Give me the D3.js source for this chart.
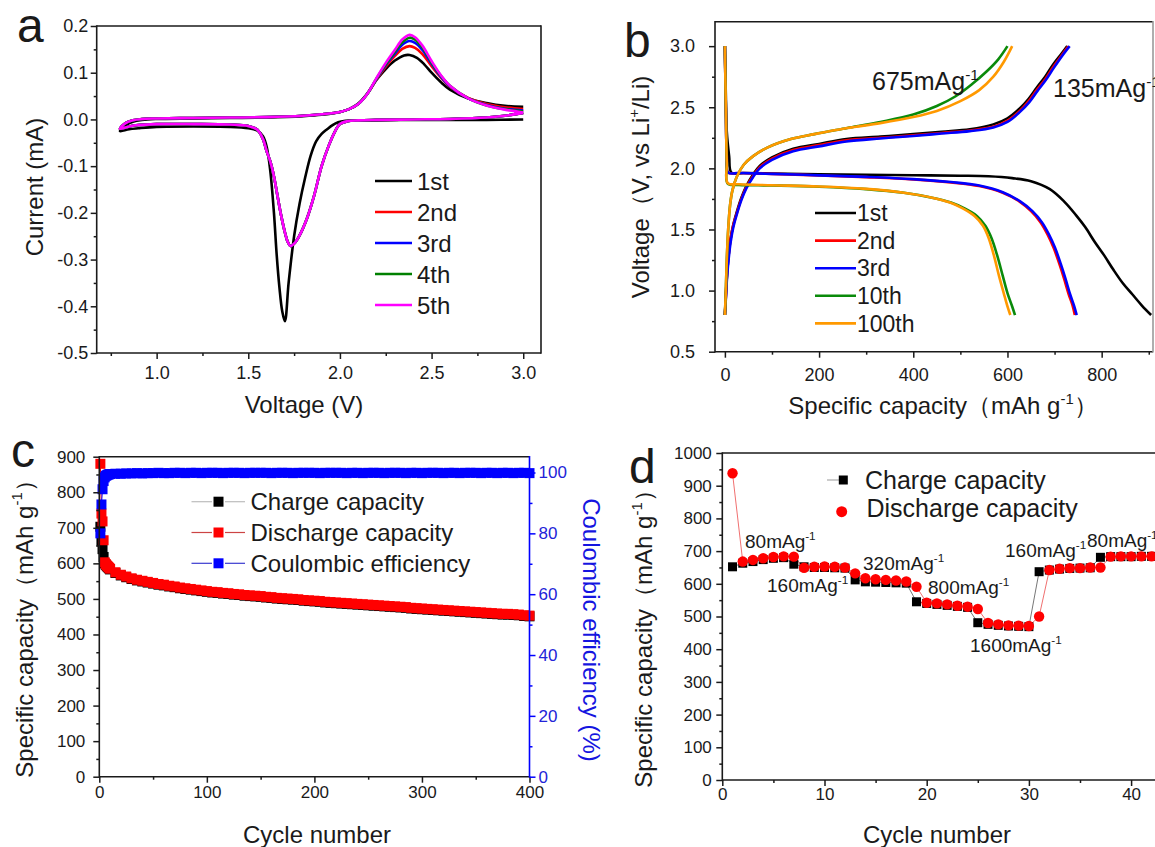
<!DOCTYPE html>
<html>
<head>
<meta charset="utf-8">
<script src="https://cdn.jsdelivr.net/npm/d3@7"></script>
<style>
  body { margin: 0; background: #fff; }
  svg { display: block; font-family: Arial, "Liberation Sans", sans-serif; }
</style>
</head>
<body>
<svg id="fig" width="1155" height="847"></svg>
<script>
// ---------- (a) cyclic voltammetry, [voltage V, current mA] ----------
const cvLabels = ["1st", "2nd", "3rd", "4th", "5th"];
const cvColors = ["#000000", "#ff0000", "#0000ff", "#008000", "#ff00ff"];

const cv1 = [[3.0,0.000],[2.8,-0.001],[2.6,-0.001],[2.4,-0.001],[2.2,-0.002],[2.1,-0.002],[2.03,-0.003],[1.99,-0.006],
  [1.96,-0.012],[1.93,-0.021],[1.90,-0.031],[1.87,-0.047],[1.84,-0.078],[1.81,-0.125],[1.78,-0.18],[1.75,-0.25],
  [1.72,-0.35],[1.70,-0.432],[1.685,-0.41],[1.67,-0.36],[1.655,-0.29],[1.64,-0.20],[1.62,-0.11],[1.60,-0.058],
  [1.58,-0.036],[1.55,-0.024],[1.50,-0.019],[1.40,-0.016],[1.20,-0.015],[1.00,-0.016],[0.90,-0.019],[0.85,-0.021],
  [0.80,-0.025],[0.83,-0.013],[0.87,-0.005],[0.92,-0.001],[1.0,0.001],[1.2,0.002],[1.4,0.003],[1.6,0.004],[1.8,0.007],
  [1.9,0.010],[2.0,0.016],[2.05,0.022],[2.1,0.034],[2.15,0.056],[2.2,0.085],[2.25,0.108],[2.3,0.126],[2.35,0.137],
  [2.38,0.138],[2.42,0.132],[2.46,0.118],[2.5,0.100],[2.55,0.080],[2.6,0.064],[2.7,0.045],[2.8,0.035],[2.9,0.029],[3.0,0.027]];

// reduction sweep is practically the same for cycles 2-5
const cvLaterCathodic = [[3.0,0.014],[2.9,0.008],[2.8,0.004],[2.6,0.001],[2.4,0.0],[2.2,-0.001],[2.1,-0.002],[2.04,-0.004],
  [2.0,-0.010],[1.97,-0.028],[1.94,-0.055],[1.90,-0.10],[1.86,-0.162],[1.82,-0.212],[1.78,-0.248],[1.75,-0.266],
  [1.73,-0.271],[1.715,-0.262],[1.70,-0.242],[1.68,-0.207],[1.66,-0.165],[1.64,-0.122],[1.62,-0.09],[1.60,-0.068],
  [1.58,-0.042],[1.55,-0.022],[1.50,-0.014],[1.40,-0.011],[1.20,-0.010],[1.00,-0.010],[0.90,-0.012],[0.85,-0.015],[0.80,-0.020]];

const cv2Anodic = [[0.83,-0.008],[0.87,-0.002],[0.92,0.001],[1.0,0.002],[1.2,0.003],[1.4,0.004],[1.6,0.005],[1.8,0.008],
  [1.9,0.011],[2.0,0.016],[2.05,0.022],[2.1,0.033],[2.15,0.055],[2.2,0.086],[2.25,0.113],[2.3,0.136],[2.34,0.151],
  [2.38,0.157],[2.41,0.153],[2.45,0.140],[2.5,0.114],[2.55,0.090],[2.6,0.070],[2.7,0.046],[2.8,0.033],[2.9,0.026],[3.0,0.022]];
const cv3Anodic = [[0.83,-0.008],[0.87,-0.002],[0.92,0.001],[1.0,0.002],[1.2,0.003],[1.4,0.004],[1.6,0.005],[1.8,0.008],
  [1.9,0.011],[2.0,0.016],[2.05,0.022],[2.1,0.033],[2.15,0.055],[2.2,0.087],[2.25,0.116],[2.3,0.141],[2.34,0.160],
  [2.38,0.168],[2.41,0.164],[2.45,0.149],[2.5,0.119],[2.55,0.092],[2.6,0.071],[2.7,0.045],[2.8,0.031],[2.9,0.023],[3.0,0.019]];
const cv4Anodic = [[0.83,-0.008],[0.87,-0.002],[0.92,0.001],[1.0,0.002],[1.2,0.003],[1.4,0.004],[1.6,0.005],[1.8,0.008],
  [1.9,0.011],[2.0,0.016],[2.05,0.022],[2.1,0.033],[2.15,0.055],[2.2,0.088],[2.25,0.118],[2.3,0.145],[2.34,0.165],
  [2.38,0.175],[2.41,0.171],[2.45,0.154],[2.5,0.122],[2.55,0.094],[2.6,0.072],[2.7,0.045],[2.8,0.030],[2.9,0.022],[3.0,0.017]];
const cv5Anodic = [[0.83,-0.008],[0.87,-0.002],[0.92,0.001],[1.0,0.002],[1.2,0.003],[1.4,0.004],[1.6,0.005],[1.8,0.008],
  [1.9,0.011],[2.0,0.016],[2.05,0.022],[2.1,0.033],[2.15,0.055],[2.2,0.089],[2.25,0.121],[2.3,0.149],[2.34,0.171],
  [2.38,0.181],[2.41,0.176],[2.45,0.158],[2.5,0.125],[2.55,0.095],[2.6,0.072],[2.7,0.045],[2.8,0.030],[2.9,0.021],[3.0,0.015]];

const cvVoltTicks = [1.0, 1.5, 2.0, 2.5, 3.0];
const cvVoltMinor = [0.75, 1.25, 1.75, 2.25, 2.75];
const cvCurrTicks = [-0.5, -0.4, -0.3, -0.2, -0.1, 0.0, 0.1, 0.2];
const cvCurrMinor = [-0.45, -0.35, -0.25, -0.15, -0.05, 0.05, 0.15];

// ---------- (b) charge/discharge profiles, [capacity mAh/g, voltage V] ----------
const gcLabels = ["1st", "2nd", "3rd", "10th", "100th"];
const gcColors = ["#000000", "#ff0000", "#0000ff", "#0a8a0a", "#ff9900"];

const gc1Dis = [[0,3.0],[2,2.6],[4,2.3],[9,2.1],[14,1.965],[40,1.962],[100,1.958],[200,1.952],[300,1.947],[400,1.944],
  [500,1.94],[560,1.935],[610,1.92],[650,1.895],[690,1.83],[720,1.73],[745,1.62],[765,1.52],[785,1.40],[805,1.29],
  [825,1.17],[845,1.06],[865,0.97],[885,0.88],[905,0.80]];
const gc1Chg = [[0,0.8],[2,0.95],[4,1.1],[7,1.25],[12,1.42],[18,1.54],[25,1.64],[35,1.76],[46,1.86],[60,1.95],[74,2.02],
  [100,2.09],[145,2.16],[200,2.20],[258,2.24],[330,2.26],[400,2.28],[460,2.30],[520,2.32],[570,2.36],[600,2.41],
  [626,2.49],[645,2.57],[662,2.66],[680,2.75],[697,2.85],[713,2.93],[727,3.0]];
const gc2Dis = [[0,3.0],[2,2.5],[4,2.1],[7,1.965],[30,1.962],[100,1.955],[200,1.942],[300,1.928],[400,1.91],[480,1.885],
  [540,1.855],[590,1.80],[625,1.73],[650,1.65],[670,1.56],[685,1.46],[698,1.35],[710,1.22],[720,1.10],[730,0.97],
  [738,0.88],[743,0.80]];
const gc2Chg = [[0,0.8],[2,0.95],[4,1.1],[7,1.25],[12,1.42],[18,1.54],[25,1.63],[35,1.75],[46,1.85],[60,1.94],[74,2.01],
  [100,2.08],[145,2.15],[200,2.19],[258,2.23],[330,2.25],[400,2.27],[460,2.29],[520,2.31],[570,2.34],[600,2.39],
  [626,2.47],[645,2.55],[662,2.64],[680,2.73],[697,2.83],[714,2.92],[729,3.0]];
const gc3Dis = [[0,3.0],[2,2.5],[4,2.1],[7,1.965],[30,1.962],[100,1.955],[200,1.943],[300,1.93],[400,1.912],[480,1.888],
  [540,1.86],[590,1.805],[627,1.73],[653,1.65],[673,1.56],[688,1.46],[701,1.35],[713,1.22],[723,1.10],[733,0.97],
  [741,0.88],[747,0.80]];
const gc3Chg = [[0,0.8],[2,0.93],[4,1.07],[7,1.22],[12,1.39],[18,1.52],[25,1.62],[35,1.74],[46,1.84],[60,1.93],[74,2.0],
  [100,2.07],[145,2.14],[200,2.18],[258,2.22],[330,2.245],[400,2.265],[460,2.285],[520,2.305],[570,2.335],[600,2.38],
  [626,2.46],[646,2.54],[663,2.63],[681,2.72],[698,2.82],[716,2.92],[732,3.0]];
const gc10Dis = [[0,3.0],[2,2.5],[4,2.05],[6,1.875],[30,1.865],[100,1.86],[200,1.85],[300,1.83],[380,1.80],[440,1.76],
  [480,1.72],[510,1.67],[535,1.61],[553,1.53],[566,1.43],[578,1.29],[590,1.12],[600,0.98],[610,0.87],[616,0.80]];
const gc10Chg = [[0,0.8],[2,1.0],[4,1.25],[7,1.5],[11,1.70],[16,1.82],[25,1.93],[40,2.03],[60,2.10],[90,2.17],[140,2.24],
  [190,2.28],[260,2.33],[330,2.38],[400,2.44],[450,2.51],[490,2.59],[525,2.69],[555,2.79],[580,2.89],[600,3.0]];
const gc100Dis = [[0,3.0],[2,2.5],[4,2.05],[6,1.88],[30,1.87],[100,1.862],[200,1.852],[300,1.832],[380,1.80],[440,1.76],
  [478,1.72],[506,1.67],[530,1.61],[548,1.53],[560,1.43],[571,1.29],[582,1.12],[592,0.98],[600,0.87],[606,0.80]];
const gc100Chg = [[0,0.8],[2,1.0],[4,1.25],[7,1.5],[11,1.70],[16,1.82],[25,1.93],[40,2.03],[60,2.10],[90,2.17],[140,2.24],
  [190,2.28],[260,2.33],[330,2.37],[400,2.42],[450,2.47],[500,2.55],[540,2.64],[570,2.75],[592,2.87],[610,3.0]];

const gcCapTicks = [0, 200, 400, 600, 800];
const gcCapMinor = [100, 300, 500, 700, 900];
const gcVoltTicks = [0.5, 1.0, 1.5, 2.0, 2.5, 3.0];
const gcVoltMinor = [0.75, 1.25, 1.75, 2.25, 2.75];

// ---------- (c) long cycling ----------
const lcCycle = [1,2,3,4,5,6,7,8,9,10,15,20,25,30,35,40,45,50,55,60,65,70,75,80,85,90,95,100,105,110,115,120,125,130,
  135,140,145,150,155,160,165,170,175,180,185,190,195,200,205,210,215,220,225,230,235,240,245,250,255,260,265,270,275,
  280,285,290,295,300,305,310,315,320,325,330,335,340,345,350,355,360,365,370,375,380,385,390,395,400];
const lcDischarge = [880,740,718,665,603,598,594,591,588,585,575,568,563,558,554,551,548,545,542,540,537,535,532,530,
  528,526,524,522,520,519,517,516,514,513,511,510,509,508,506,505,503,502,501,500,499,497,496,495,494,492,491,490,
  489,488,487,486,485,484,483,482,481,480,479,478,477,475,474,473,472,471,470,469,468,467,466,465,464,463,462,461,
  460,459,458,458,457,456,454,453];
const lcCharge = [703,662,640,618,600,596,592,589,586,583,573,566,561,556,552,549,546,543,540,538,535,533,530,528,
  526,524,522,520,518,517,515,514,512,511,509,508,507,506,504,503,501,500,499,498,497,495,494,493,492,490,489,488,
  487,486,485,484,483,482,481,480,479,478,477,476,475,473,472,471,470,469,468,467,466,465,464,463,462,461,460,459,
  458,457,456,456,455,454,452,451];
const lcEfficiency = [80,89.5,94.5,97.2,98.4,98.9,99.1,99.3,99.4,99.5,99.6,99.6,99.7,99.7,99.8,99.7,99.8,99.8,99.9,99.8,
  99.8,99.9,99.9,99.8,99.9,99.9,99.8,99.9,99.9,99.9,99.8,99.9,99.9,99.9,99.8,99.9,99.9,99.9,99.9,99.8,99.9,99.9,
  99.9,99.8,99.9,99.9,99.9,99.9,99.8,99.9,99.9,99.9,99.9,99.8,99.9,99.9,99.8,99.9,99.9,99.9,99.8,99.9,99.9,99.9,
  99.8,99.9,99.9,99.8,99.9,99.9,99.9,99.8,99.9,99.9,99.8,99.9,99.9,99.9,99.8,99.9,99.9,99.8,99.9,99.9,99.8,99.9,99.9,99.8];
const lcLegend = ["Charge capacity", "Discharge capacity", "Coulombic efficiency"];
const lcCycleTicks = [0, 100, 200, 300, 400];
const lcCycleMinor = [50, 150, 250, 350];
const lcCapTicks = [0, 100, 200, 300, 400, 500, 600, 700, 800, 900];
const lcCapMinor = [50, 150, 250, 350, 450, 550, 650, 750, 850];
const lcEffTicks = [0, 20, 40, 60, 80, 100];
const lcEffMinor = [10, 30, 50, 70, 90];

// ---------- (d) rate capability ----------
const rtCycle = [1,2,3,4,5,6,7,8,9,10,11,12,13,14,15,16,17,18,19,20,21,22,23,24,25,26,27,28,29,30,31,32,33,34,35,36,
  37,38,39,40,41,42];
const rtCharge = [652,663,668,674,678,680, 660,652,650,650,649,648, 612,606,605,604,603,602, 545,540,537,534,531,528,
  481,476,473,471,470,469, 637,642,645,647,648,649, 681,683,683,683,684,684];
const rtDischarge = [938,668,673,678,682,684, 683,649,652,653,652,650, 632,617,614,612,610,607, 591,542,540,537,533,530,
  523,480,476,473,472,471, 500,642,646,648,648,650, 650,683,684,684,684,684];
const rtRates = [
  { text: "80mAg", x: 745, y: 548 }, { text: "160mAg", x: 767, y: 592 }, { text: "320mAg", x: 863, y: 570 },
  { text: "800mAg", x: 928, y: 594 }, { text: "1600mAg", x: 970, y: 652 }, { text: "160mAg", x: 1005, y: 557 },
  { text: "80mAg", x: 1087, y: 547 }];
const rtLegend = ["Charge capacity", "Discharge capacity"];
const rtCycleTicks = [0, 10, 20, 30, 40];
const rtCycleMinor = [5, 15, 25, 35, 45];
const rtCapTicks = [0, 100, 200, 300, 400, 500, 600, 700, 800, 900, 1000];
const rtCapMinor = [50, 150, 250, 350, 450, 550, 650, 750, 850, 950];

const INK = "#1a1a1a";
const svg = d3.select("#fig");

// text with a superscript part; parts = [[string, isSup], ...]
function richText(g, parts, fs) {
  const t = g.append("text").attr("font-size", fs).attr("fill", INK);
  let up = false;
  parts.forEach(([s, sup]) => {
    const ts = t.append("tspan").text(s);
    if (sup && !up) { ts.attr("font-size", fs * 0.62).attr("dy", -fs * 0.42); up = true; }
    else if (!sup && up) { ts.attr("dy", fs * 0.42); up = false; }
  });
  return t;
}

function styleAxis(sel, color, fs) {
  sel.select(".domain").remove();
  sel.attr("font-family", null).attr("font-size", fs).attr("color", color);
  sel.selectAll(".tick line").attr("stroke-width", 1.5);
  sel.selectAll(".tick text").attr("fill", color);
}

function drawAxes(g, o) {
  const [x0] = o.x.range(), [y0] = o.y.range();
  const bottom = g.append("g").attr("transform", `translate(0,${y0})`);
  bottom.append("g").call(d3.axisBottom(o.x).tickValues(o.xMinor).tickSize(3).tickSizeOuter(0).tickFormat(""))
    .call(s => styleAxis(s, INK, o.fs));
  bottom.append("g").call(d3.axisBottom(o.x).tickValues(o.xTicks).tickSize(6).tickSizeOuter(0)
      .tickPadding(o.padX).tickFormat(o.fmtX))
    .call(s => styleAxis(s, INK, o.fs));
  const left = g.append("g").attr("transform", `translate(${x0},0)`);
  left.append("g").call(d3.axisLeft(o.y).tickValues(o.yMinor).tickSize(3).tickSizeOuter(0).tickFormat(""))
    .call(s => styleAxis(s, INK, o.fs));
  left.append("g").call(d3.axisLeft(o.y).tickValues(o.yTicks).tickSize(6).tickSizeOuter(0)
      .tickPadding(o.padY).tickFormat(o.fmtY))
    .call(s => styleAxis(s, INK, o.fs));
}

function frame(g, x, y, rightColor) {
  const [x0, x1] = x.range(), [y0, y1] = y.range();
  const seg = (a, b, c, d, col) => g.append("line").attr("x1", a).attr("y1", b).attr("x2", c).attr("y2", d)
    .attr("stroke", col).attr("stroke-width", 1.6);
  seg(x0, y1, x1, y1, INK);
  seg(x0, y0, x1, y0, INK);
  seg(x0, y0 + 0.8, x0, y1 - 0.8, INK);
  if (rightColor) seg(x1, y0 + 0.8, x1, y1 - 0.8, rightColor);
}

function panelLetter(s, x, y) {
  svg.append("text").attr("x", x).attr("y", y).attr("font-size", 48).attr("fill", INK).text(s);
}

// ================= (a) =================
{
  const g = svg.append("g");
  const x = d3.scaleLinear([0.673, 3.097], [96.7, 541]);
  const y = d3.scaleLinear([-0.5, 0.2], [353, 26]);
  const cycles = [cv1, cvLaterCathodic.concat(cv2Anodic), cvLaterCathodic.concat(cv3Anodic),
    cvLaterCathodic.concat(cv4Anodic), cvLaterCathodic.concat(cv5Anodic)];
  const line = d3.line().x(d => x(d[0])).y(d => y(d[1])).curve(d3.curveCatmullRom.alpha(0.5));
  g.selectAll("path.cv").data(cycles).join("path").attr("class", "cv")
    .attr("d", line).attr("fill", "none").attr("stroke", (d, i) => cvColors[i])
    .attr("stroke-width", 2.6).attr("stroke-linejoin", "round");

  drawAxes(g, { x, y, xTicks: cvVoltTicks, xMinor: cvVoltMinor, yTicks: cvCurrTicks, yMinor: cvCurrMinor,
    fmtX: d => d.toFixed(1), fmtY: d => d.toFixed(1), padX: 7, padY: 2.5, fs: 18 });
  frame(g, x, y, INK);

  const lg = g.append("g");
  cvLabels.forEach((lab, i) => {
    const ly = 181 + i * 31;
    lg.append("line").attr("x1", 375).attr("x2", 412).attr("y1", ly).attr("y2", ly)
      .attr("stroke", cvColors[i]).attr("stroke-width", 2.6);
    lg.append("text").attr("x", 417).attr("y", ly).attr("dy", "0.36em").attr("font-size", 24)
      .attr("fill", INK).text(lab);
  });

  g.append("text").attr("x", 304).attr("y", 413).attr("text-anchor", "middle").attr("font-size", 24)
    .attr("fill", INK).text("Voltage (V)");
  g.append("text").attr("transform", "translate(42.5,187) rotate(-90)").attr("text-anchor", "middle")
    .attr("font-size", 24).attr("fill", INK).text("Current (mA)");
  panelLetter("a", 17, 42);
}

// ================= (b) =================
{
  const g = svg.append("g");
  const x = d3.scaleLinear([-21, 909], [715, 1153]);
  const y = d3.scaleLinear([0.5, 3.2], [351.7, 21.7]);
  const curves = [
    [gc1Dis, gc1Chg], [gc2Dis, gc2Chg], [gc3Dis, gc3Chg], [gc10Dis, gc10Chg], [gc100Dis, gc100Chg]];
  const line = d3.line().x(d => x(d[0])).y(d => y(d[1])).curve(d3.curveCatmullRom.alpha(0.5));
  curves.forEach((pair, i) => {
    pair.forEach(arr => {
      g.append("path").attr("d", line(arr)).attr("fill", "none").attr("stroke", gcColors[i])
        .attr("stroke-width", 2.6).attr("stroke-linejoin", "round");
    });
  });

  drawAxes(g, { x, y, xTicks: gcCapTicks, xMinor: gcCapMinor, yTicks: gcVoltTicks, yMinor: gcVoltMinor,
    fmtX: d => d, fmtY: d => d.toFixed(1), padX: 11, padY: 14, fs: 18 });
  frame(g, x, y, "#9a9a9a");

  const lg = g.append("g");
  gcLabels.forEach((lab, i) => {
    const ly = 213 + i * 27.6;
    lg.append("line").attr("x1", 815).attr("x2", 856).attr("y1", ly).attr("y2", ly)
      .attr("stroke", gcColors[i]).attr("stroke-width", 2.6);
    lg.append("text").attr("x", 857).attr("y", ly).attr("dy", "0.36em").attr("font-size", 23)
      .attr("fill", INK).text(lab);
  });

  richText(g, [["675mAg", false], ["-1", true]], 25).attr("x", 872).attr("y", 90);
  richText(g, [["135mAg", false], ["-1", true]], 25).attr("x", 1053).attr("y", 97);

  richText(g, [["Specific capacity（mAh g", false], ["-1", true], ["）", false]], 24)
    .attr("x", 943).attr("y", 414).attr("text-anchor", "middle");
  richText(g, [["Voltage（V, vs Li", false], ["+", true], ["/Li)", false]], 24)
    .attr("transform", "translate(649,187) rotate(-90)").attr("text-anchor", "middle");
  panelLetter("b", 624, 57);
}

// ================= (c) =================
{
  const g = svg.append("g");
  const x = d3.scaleLinear([0, 400], [99.3, 529.5]);
  const y = d3.scaleLinear([0, 900], [776.7, 456.7]);
  const y2 = d3.scaleLinear([0, 105.2], [776.7, 456.7]);
  const BLUE = "#0000ff";

  const charge = lcCycle.map((c, i) => [c, lcCharge[i]]);
  const discharge = lcCycle.map((c, i) => [c, lcDischarge[i]]);
  const eff = lcCycle.map((c, i) => [c, lcEfficiency[i]]);

  const lineL = d3.line().x(d => x(d[0])).y(d => y(d[1]));
  const lineR = d3.line().x(d => x(d[0])).y(d => y2(d[1]));
  g.append("path").attr("d", lineL(charge)).attr("fill", "none").attr("stroke", "#555").attr("stroke-width", 1);
  g.append("path").attr("d", lineL(discharge)).attr("fill", "none").attr("stroke", "#ff0000").attr("stroke-width", 1);
  g.append("path").attr("d", lineR(eff)).attr("fill", "none").attr("stroke", BLUE).attr("stroke-width", 1);

  const sq = 10;
  const squares = (data, yy, col) => g.append("g").selectAll("rect").data(data).join("rect")
    .attr("x", d => x(d[0]) - sq / 2).attr("y", d => yy(d[1]) - sq / 2)
    .attr("width", sq).attr("height", sq).attr("fill", col);
  squares(charge, y, "#000");
  squares(discharge, y, "#ff0000");
  squares(eff, y2, BLUE);

  drawAxes(g, { x, y, xTicks: lcCycleTicks, xMinor: lcCycleMinor, yTicks: lcCapTicks, yMinor: lcCapMinor,
    fmtX: d => d, fmtY: d => d, padX: 3, padY: 8, fs: 17 });

  const right = g.append("g").attr("transform", `translate(${x.range()[1]},0)`);
  right.append("g").call(d3.axisRight(y2).tickValues(lcEffMinor).tickSize(3).tickSizeOuter(0).tickFormat(""))
    .call(s => styleAxis(s, BLUE, 17));
  right.append("g").call(d3.axisRight(y2).tickValues(lcEffTicks).tickSize(6).tickSizeOuter(0).tickPadding(3))
    .call(s => styleAxis(s, BLUE, 17));
  right.selectAll(".tick text").attr("fill", "#2323d8");
  frame(g, x, y, BLUE);

  const lg = g.append("g");
  const legCols = ["#000", "#ff0000", BLUE];
  const legLine = ["#bdbdbd", "#c44", "#3a3ad0"];
  lcLegend.forEach((lab, i) => {
    const ly = 501.7 + i * 30.8;
    lg.append("line").attr("x1", 191.5).attr("x2", 212).attr("y1", ly).attr("y2", ly)
      .attr("stroke", legLine[i]).attr("stroke-width", 1.2);
    lg.append("line").attr("x1", 225).attr("x2", 245).attr("y1", ly).attr("y2", ly)
      .attr("stroke", legLine[i]).attr("stroke-width", 1.2);
    lg.append("rect").attr("x", 218.5 - 5).attr("y", ly - 5).attr("width", 10).attr("height", 10).attr("fill", legCols[i]);
    lg.append("text").attr("x", 250.5).attr("y", ly).attr("dy", "0.36em").attr("font-size", 24)
      .attr("fill", INK).text(lab);
  });

  g.append("text").attr("x", 317).attr("y", 843).attr("text-anchor", "middle").attr("font-size", 24)
    .attr("fill", INK).text("Cycle number");
  richText(g, [["Specific capacity（mAh g", false], ["-1", true], ["）", false]], 24)
    .attr("transform", "translate(32.5,623) rotate(-90)").attr("text-anchor", "middle");
  g.append("text").attr("transform", "translate(583,630) rotate(90)").attr("text-anchor", "middle")
    .attr("font-size", 24).attr("fill", "#1515e0").text("Coulombic efficiency (%)");
  panelLetter("c", 11, 467);
}

// ================= (d) =================
{
  const g = svg.append("g");
  const x = d3.scaleLinear([0, 45], [722.3, 1182.2]);
  const y = d3.scaleLinear([0, 1000], [780, 453]);
  const charge = rtCycle.map((c, i) => [c, rtCharge[i]]);
  const discharge = rtCycle.map((c, i) => [c, rtDischarge[i]]);
  const line = d3.line().x(d => x(d[0])).y(d => y(d[1]));

  g.append("path").attr("d", line(charge)).attr("fill", "none").attr("stroke", "#777").attr("stroke-width", 1);
  g.append("path").attr("d", line(discharge)).attr("fill", "none").attr("stroke", "#f07070").attr("stroke-width", 1);

  const sq = 9;
  g.append("g").selectAll("rect").data(charge).join("rect")
    .attr("x", d => x(d[0]) - sq / 2).attr("y", d => y(d[1]) - sq / 2)
    .attr("width", sq).attr("height", sq).attr("fill", "#000");
  g.append("g").selectAll("circle").data(discharge).join("circle")
    .attr("cx", d => x(d[0])).attr("cy", d => y(d[1])).attr("r", 5.2).attr("fill", "#ff0000");

  drawAxes(g, { x, y, xTicks: rtCycleTicks, xMinor: rtCycleMinor, yTicks: rtCapTicks, yMinor: rtCapMinor,
    fmtX: d => d, fmtY: d => d, padX: 2, padY: 4.5, fs: 17 });
  frame(g, x, y, null);

  rtRates.forEach(r => richText(g, [[r.text, false], ["-1", true]], 19).attr("x", r.x).attr("y", r.y));

  const lg = g.append("g");
  lg.append("line").attr("x1", 827).attr("x2", 842).attr("y1", 480).attr("y2", 480).attr("stroke", "#aaa").attr("stroke-width", 1.2);
  lg.append("rect").attr("x", 843.3 - 4.5).attr("y", 480 - 4.5).attr("width", 9).attr("height", 9).attr("fill", "#000");
  lg.append("circle").attr("cx", 841.7).attr("cy", 511.7).attr("r", 5.5).attr("fill", "#ff0000");
  lg.append("text").attr("x", 865).attr("y", 480).attr("dy", "0.36em").attr("font-size", 25).attr("fill", INK).text(rtLegend[0]);
  lg.append("text").attr("x", 866.5).attr("y", 508).attr("dy", "0.36em").attr("font-size", 25).attr("fill", INK).text(rtLegend[1]);

  g.append("text").attr("x", 937).attr("y", 843).attr("text-anchor", "middle").attr("font-size", 24)
    .attr("fill", INK).text("Cycle number");
  richText(g, [["Specific capacity（mAh g", false], ["-1", true], ["）", false]], 24)
    .attr("transform", "translate(652,633) rotate(-90)").attr("text-anchor", "middle");
  panelLetter("d", 629, 483);
}
</script>
</body>
</html>
